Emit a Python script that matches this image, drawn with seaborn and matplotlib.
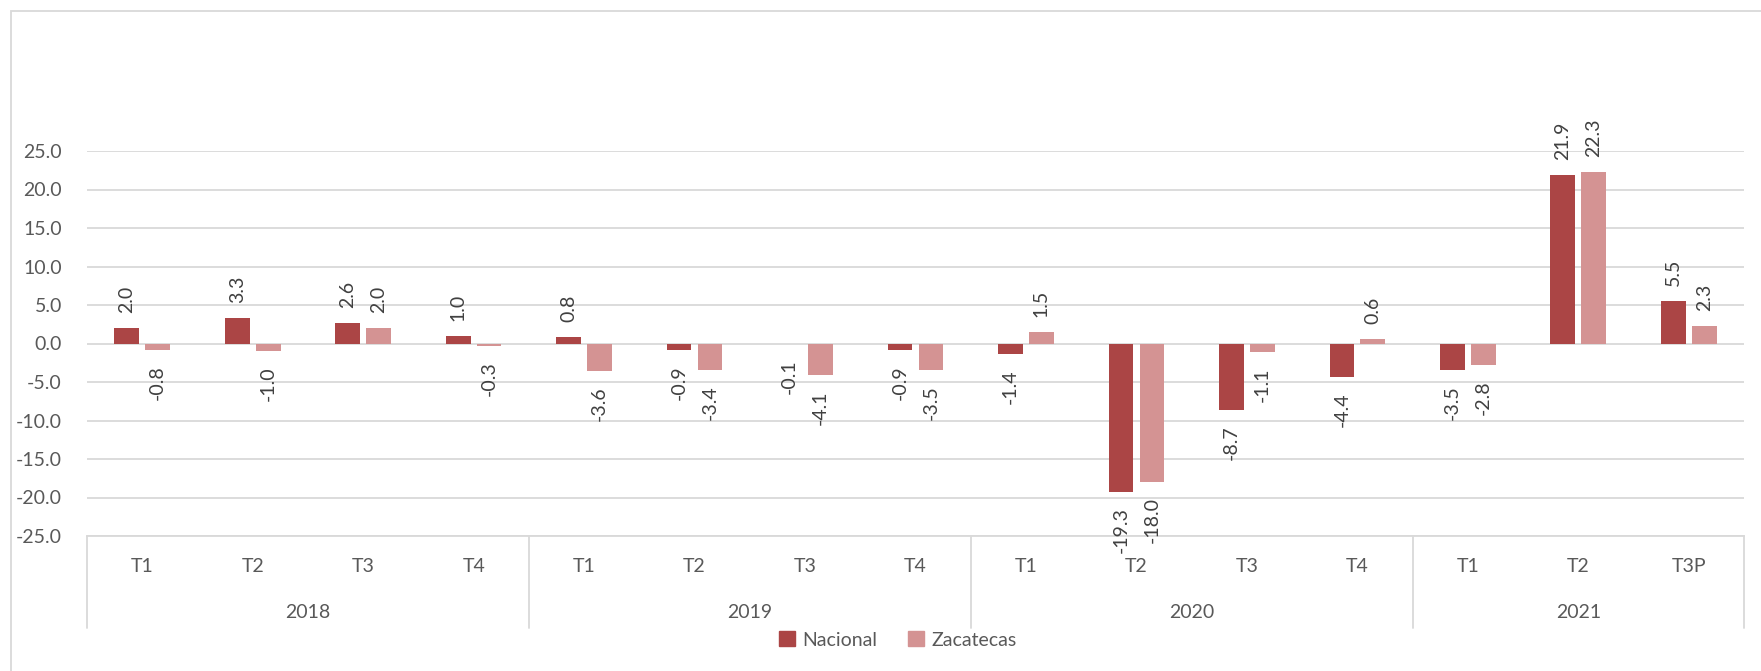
import numpy as np
import pandas as pd
import seaborn as sns
import matplotlib.pyplot as plt
from matplotlib.patches import Rectangle
from matplotlib.lines import Line2D

# data
years = ['2018', '2019', '2020', '2021']
quarters = [['T1', 'T2', 'T3', 'T4'], ['T1', 'T2', 'T3', 'T4'],
            ['T1', 'T2', 'T3', 'T4'], ['T1', 'T2', 'T3P']]
nacional = [2.0, 3.3, 2.6, 1.0, 0.8, -0.9, -0.1, -0.9,
            -1.4, -19.3, -8.7, -4.4, -3.5, 21.9, 5.5]
zacatecas = [-0.8, -1.0, 2.0, -0.3, -3.6, -3.4, -4.1, -3.5,
             1.5, -18.0, -1.1, 0.6, -2.8, 22.3, 2.3]
series = ['Nacional', 'Zacatecas']
colors = ['#ab4545', '#d49393']

cats = [f'{y}-{q}' for y, qs in zip(years, quarters) for q in qs]
df = pd.DataFrame({
    'cat': cats * 2,
    'serie': ['Nacional'] * len(cats) + ['Zacatecas'] * len(cats),
    'valor': nacional + zacatecas,
})

sns.set_theme(style='white')
plt.rcParams['font.family'] = ['Lato', 'DejaVu Sans']
text_c = '#595959'
grid_c = '#d9d9d9'

W, H = 1761, 671
fig = plt.figure(figsize=(W / 100, H / 100), dpi=100)
ax = fig.add_axes([87 / W, 1 - 536 / H, (1744 - 87) / W, (536 - 151) / H])

sns.barplot(data=df, x='cat', y='valor', hue='serie', hue_order=series,
            palette=colors, width=0.56, gap=0.2, ax=ax, legend=False,
            saturation=1, edgecolor='none')

for cont in ax.containers:
    ax.bar_label(cont, fmt='%.1f', rotation=90, padding=11,
                 fontsize=14, color='#404040')

ax.set_ylim(-25, 25)
ax.set_xlim(-0.5, len(cats) - 0.5)
ax.set_yticks(np.arange(-25, 26, 5))
ax.set_yticklabels([f'{v:.1f}' for v in np.arange(-25, 26, 5)],
                   fontsize=14, color=text_c)
ax.tick_params(axis='y', length=0, pad=18)
ax.set_xticks([])
ax.set_xlabel('')
ax.set_ylabel('')
ax.yaxis.grid(True, color=grid_c, linewidth=1.3)
ax.set_axisbelow(True)
for s in ['left', 'right', 'top']:
    ax.spines[s].set_visible(False)
ax.spines['bottom'].set_color(grid_c)
ax.spines['bottom'].set_linewidth(1.3)

# two-level category axis
trans = ax.get_xaxis_transform()
ax_h = 536 - 151
i = 0
bounds = [-0.5]
for y, qs in zip(years, quarters):
    for q in qs:
        ax.text(i, -31 / ax_h, q, transform=trans, ha='center', va='center',
                fontsize=14, color=text_c)
        i += 1
    ax.text(i - len(qs) / 2 - 0.5, -77 / ax_h, y, transform=trans,
            ha='center', va='center', fontsize=14, color=text_c)
    bounds.append(i - 0.5)
for b in bounds:
    ax.plot([b, b], [0, -92 / ax_h], transform=trans, color=grid_c,
            linewidth=1.3, clip_on=False)

# legend
handles = [Rectangle((0, 0), 1, 1, color=c) for c in colors]
fig.legend(handles, series, loc='center', bbox_to_anchor=(898 / W, 1 - 640 / H),
           ncol=2, frameon=False, fontsize=14, labelcolor=text_c,
           handlelength=0.8, handleheight=0.8, handletextpad=0.4,
           columnspacing=1.6)

# outer chart border
fig.add_artist(Rectangle((11 / W, -0.05), 1.1, 1 - 11 / H + 0.05,
                         transform=fig.transFigure, fill=False,
                         edgecolor=grid_c, linewidth=1.3))

fig.savefig('out.png', dpi=100)
